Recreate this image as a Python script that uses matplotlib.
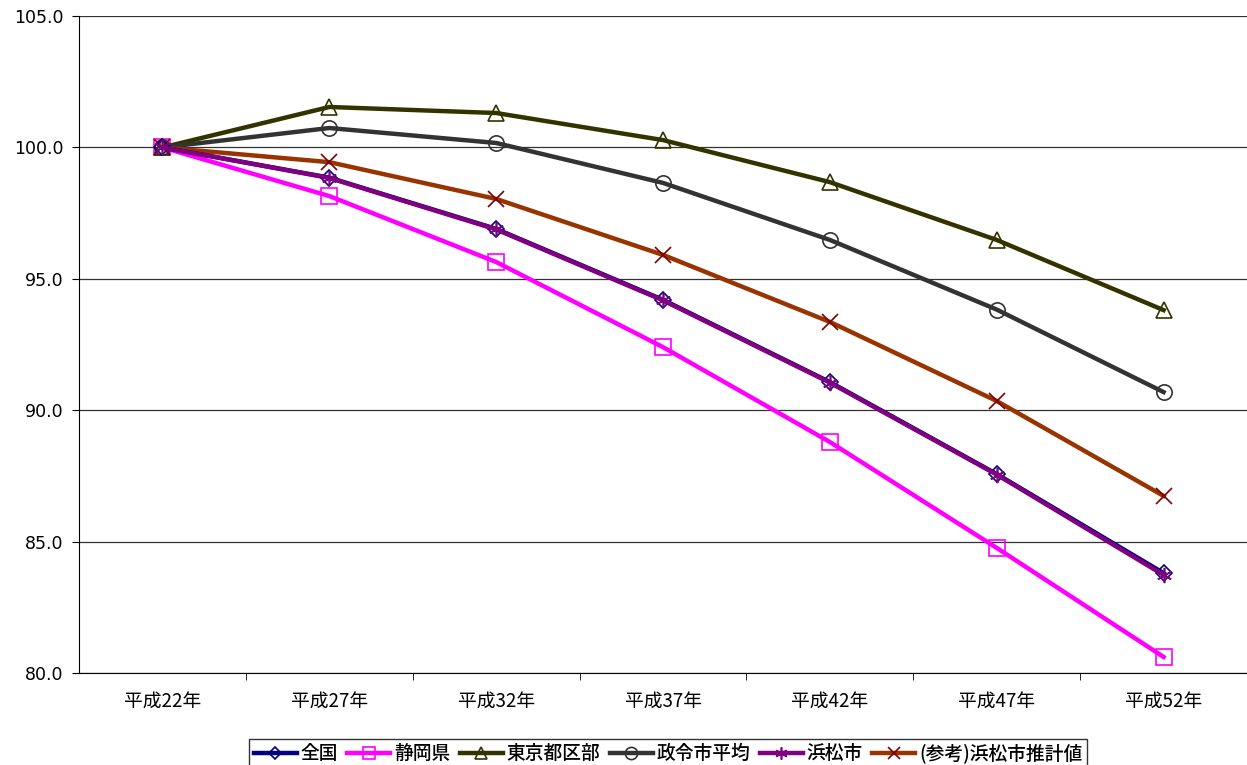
import matplotlib.pyplot as plt
from matplotlib.ticker import FixedLocator, NullFormatter

plt.rcParams['font.family'] = ['Noto Sans CJK JP', 'DejaVu Sans']

# data
years = ['平成22年', '平成27年', '平成32年', '平成37年', '平成42年', '平成47年', '平成52年']
zenkoku = [100.0, 98.85, 96.9, 94.2, 91.07, 87.57, 83.8]
shizuoka = [100.0, 98.15, 95.64, 92.4, 88.79, 84.76, 80.61]
tokyo = [100.0, 101.54, 101.31, 100.28, 98.68, 96.48, 93.81]
seirei = [100.0, 100.74, 100.17, 98.65, 96.48, 93.83, 90.69]
hamamatsu = [100.0, 98.84, 96.88, 94.18, 91.05, 87.55, 83.73]
sankou = [100.0, 99.44, 98.04, 95.91, 93.36, 90.35, 86.74]
yvals = [80, 85, 90, 95, 100, 105]

fig = plt.figure(figsize=(12.47, 7.65), dpi=100)
ax = fig.add_axes([0.0634, 0.1203, 0.9366, 0.8587])

x = range(len(years))
lw = 3.2
ms = 11

ax.plot(x, zenkoku, color='#000080', lw=lw, marker='D', ms=ms * 0.75,
        mfc='none', mec='#000080', mew=1.2, label='全国', zorder=4)
ax.plot(x, shizuoka, color='#FF00FF', lw=lw, marker='s', ms=ms,
        mfc='none', mec='#FF00FF', mew=1.2, label='静岡県', zorder=3)
ax.plot(x, tokyo, color='#333300', lw=lw, marker='^', ms=ms,
        mfc='none', mec='#333300', mew=1.2, label='東京都区部', zorder=3)
ax.plot(x, seirei, color='#333333', lw=lw, marker='o', ms=ms,
        mfc='none', mec='#333333', mew=1.2, label='政令市平均', zorder=3)
ax.plot(x, hamamatsu, color='#800080', lw=lw, marker=(6, 2, 0), ms=ms,
        mfc='none', mec='#800080', mew=1.2, label='浜松市', zorder=4)
ax.plot(x, sankou, color='#993300', lw=lw, marker='x', ms=ms,
        mfc='none', mec='#800000', mew=1.2, label='(参考)浜松市推計値', zorder=3)

ax.set_xlim(-0.5, len(years) - 0.5)
ax.set_ylim(80, 105)
ax.set_yticks(yvals)
ax.set_yticklabels(['%.1f' % v for v in yvals], fontsize=12.5, family='DejaVu Sans')
ax.yaxis.grid(True, color='#333333', lw=0.9)
ax.set_axisbelow(True)

ax.set_xticks(list(x))
ax.set_xticklabels(years, fontsize=13.5)
ax.tick_params(axis='x', which='major', length=0, pad=13)
ax.xaxis.set_minor_locator(FixedLocator([i - 0.5 for i in range(1, len(years))]))
ax.xaxis.set_minor_formatter(NullFormatter())
ax.tick_params(axis='x', which='minor', length=5, direction='out')
ax.tick_params(axis='y', length=5, direction='out', pad=6)

for s in ['top', 'right']:
    ax.spines[s].set_visible(False)
ax.spines['left'].set_color('black')
ax.spines['bottom'].set_color('black')

leg = fig.legend(loc='lower center', bbox_to_anchor=(0.5357, -0.004), ncol=6,
                 prop={'size': 13.5, 'weight': 'medium'}, frameon=True, fancybox=False,
                 edgecolor='black', handlelength=2.3, handletextpad=0.2,
                 columnspacing=0.5, borderpad=0.25, borderaxespad=0, markerscale=0.8)
leg.get_frame().set_linewidth(1.0)

plt.savefig('out.png', dpi=100)
